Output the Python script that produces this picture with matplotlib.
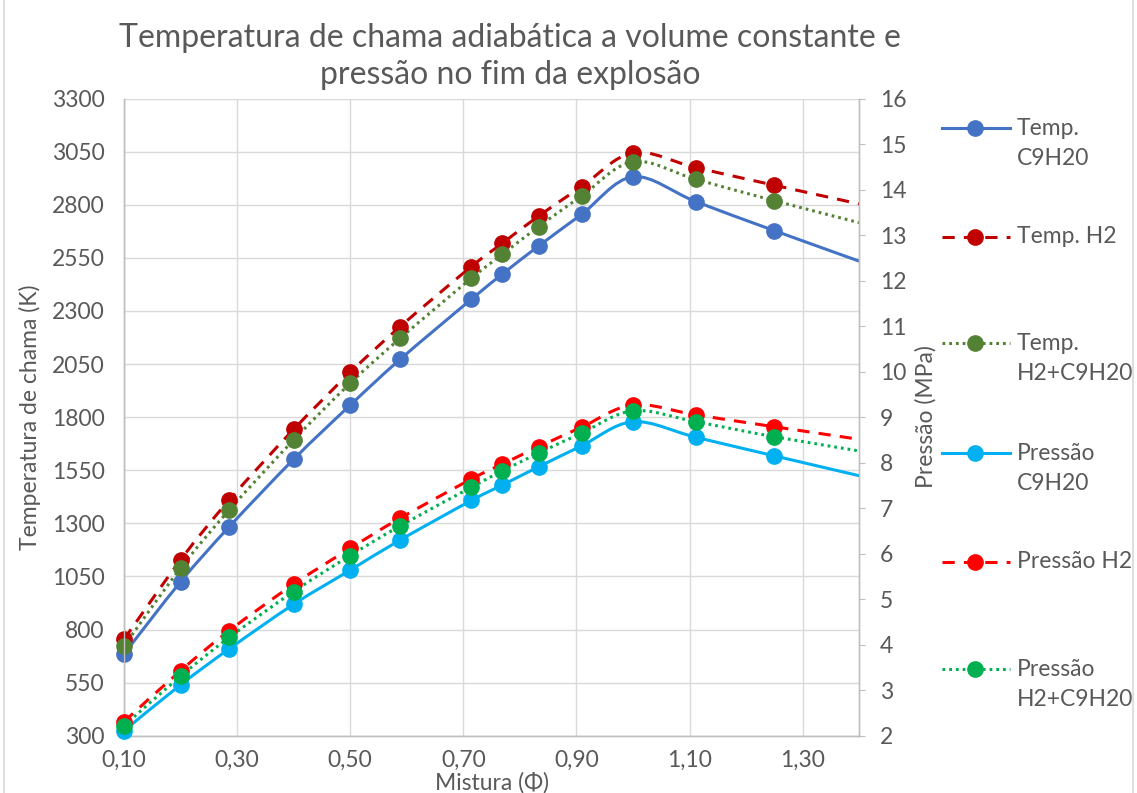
import numpy as np
import matplotlib
matplotlib.use("Agg")
import matplotlib.pyplot as plt
from matplotlib.path import Path
from matplotlib.patches import PathPatch
from matplotlib.lines import Line2D
from matplotlib.ticker import FuncFormatter, FixedLocator

plt.rcParams['font.family'] = ['Lato', 'DejaVu Sans']

# ---- data ----
phi = [0.10, 0.20, 0.286, 0.40, 0.50, 0.588, 0.714, 0.769, 0.833, 0.909, 1.00, 1.111, 1.25, 1.429]
temp_c9h20 = [685, 1025, 1284, 1602, 1857, 2072, 2355, 2474, 2606, 2755, 2932, 2815, 2678, 2507]
temp_h2 = [754, 1128, 1410, 1743, 2011, 2226, 2509, 2619, 2747, 2885, 3045, 2975, 2892, 2787]
temp_mix = [723, 1089, 1363, 1693, 1960, 2171, 2454, 2567, 2697, 2841, 3003, 2920, 2819, 2696]
pres_c9h20 = [2.11, 3.12, 3.91, 4.89, 5.64, 6.30, 7.17, 7.51, 7.91, 8.37, 8.90, 8.56, 8.15, 7.63]
pres_h2 = [2.31, 3.43, 4.31, 5.33, 6.12, 6.78, 7.64, 7.97, 8.35, 8.78, 9.27, 9.05, 8.79, 8.46]
pres_mix = [2.22, 3.31, 4.16, 5.17, 5.96, 6.61, 7.46, 7.82, 8.21, 8.65, 9.14, 8.90, 8.57, 8.20]

x_ticks = [0.10, 0.30, 0.50, 0.70, 0.90, 1.10, 1.30]
yl_ticks = [300, 550, 800, 1050, 1300, 1550, 1800, 2050, 2300, 2550, 2800, 3050, 3300]
yr_ticks = list(range(2, 17))

labels = ["Temp.\nC9H20", "Temp. H2", "Temp.\nH2+C9H20",
          "Pressão\nC9H20", "Pressão H2", "Pressão\nH2+C9H20"]
colors = ["#4472C4", "#C00000", "#548235", "#00B0F0", "#FF0000", "#00B050"]
DASH = (0, (4, 3))
DOT = (0, (0.9, 1.3))
styles = ["-", DASH, DOT, "-", DASH, DOT]

title = "Temperatura de chama adiabática a volume constante e\npressão no fim da explosão"
xlabel = "Mistura (Φ)"
ylabel_left = "Temperatura de chama (K)"
ylabel_right = "Pressão (MPa)"

W, H = 1137, 793
fig = plt.figure(figsize=(W / 100, H / 100), dpi=100)
L, R, T, B = 124, 859.3, 98.6, 735.8
ax = fig.add_axes([L / W, 1 - B / H, (R - L) / W, (B - T) / H])
ax2 = ax.twinx()

TXT = "#595959"
GRID = "#D9D9D9"
SP = "#BFBFBF"
FS = 16.5


def fx(px):
    return px / W


def fy(py):
    return 1 - py / H


def smooth_path(x, y):
    pts = np.column_stack([x, y]).astype(float)
    n = len(pts)
    verts = [pts[0]]
    codes = [Path.MOVETO]
    for i in range(n - 1):
        p0 = pts[i - 1] if i > 0 else pts[i]
        p1 = pts[i]
        p2 = pts[i + 1]
        p3 = pts[i + 2] if i + 2 < n else pts[i + 1]
        c1 = p1 + (p2 - p0) / 6.0
        c2 = p2 - (p3 - p1) / 6.0
        verts += [c1, c2, p2]
        codes += [Path.CURVE4] * 3
    return Path(verts, codes)


xarr = np.array(phi)
vis = xarr <= 1.4
series = [(ax, temp_c9h20), (ax, temp_h2), (ax, temp_mix),
          (ax2, pres_c9h20), (ax2, pres_h2), (ax2, pres_mix)]
for (a, ys), c, ls in zip(series, colors, styles):
    patch = PathPatch(smooth_path(phi, ys), fill=False, edgecolor=c, lw=2.2,
                      linestyle=ls, capstyle='butt', zorder=2)
    a.add_patch(patch)
    a.plot(xarr[vis], np.array(ys)[vis], 'o', color=c, ms=11, ls='none',
           clip_on=False, zorder=3)

ax.set_xlim(0.1, 1.4)
ax.set_ylim(300, 3300)
ax2.set_ylim(2, 16)
ax.xaxis.set_major_locator(FixedLocator(x_ticks))
ax.yaxis.set_major_locator(FixedLocator(yl_ticks))
ax2.yaxis.set_major_locator(FixedLocator(yr_ticks))
ax.xaxis.set_major_formatter(FuncFormatter(lambda v, p: f"{v:.2f}".replace(".", ",")))

ax.grid(True, color=GRID, lw=1.0, zorder=0)
ax.set_axisbelow(True)
for a in (ax, ax2):
    a.spines['top'].set_visible(False)
    for s in ('left', 'bottom', 'right'):
        a.spines[s].set_color(SP)
        a.spines[s].set_linewidth(1.0)
ax.tick_params(axis='y', length=0, pad=14, labelsize=FS, labelcolor=TXT)
ax.tick_params(axis='x', length=0, pad=10, labelsize=FS, labelcolor=TXT)
ax2.tick_params(axis='y', length=4, color=SP, pad=11, labelsize=FS, labelcolor=TXT)

fig.text(fx(30), fy(417), ylabel_left, rotation=90, fontsize=FS, color=TXT,
         ha='center', va='center')
fig.text(fx(926), fy(417), ylabel_right, rotation=90, fontsize=FS, color=TXT,
         ha='center', va='center')
fig.text(fx((L + R) / 2), fy(783), xlabel, fontsize=FS, color=TXT,
         ha='center', va='center')
fig.text(fx(510), fy(38), title.split("\n")[0], fontsize=23, color=TXT,
         ha='center', va='center')
fig.text(fx(510), fy(75), title.split("\n")[1], fontsize=23, color=TXT,
         ha='center', va='center')

# legend (placed like the Excel legend)
leg_y = [128.3, 236.7, 343.3, 453.3, 561.7, 669.3]
for c, ls, lab, yy in zip(colors, styles, labels, leg_y):
    fig.add_artist(Line2D([fx(941.7), fx(1010)], [fy(yy), fy(yy)], color=c,
                          lw=2.2, ls=ls))
    fig.add_artist(Line2D([fx(975)], [fy(yy)], color=c, marker='o', ms=11,
                          ls='none'))
    for k, line in enumerate(lab.split("\n")):
        fig.text(fx(1017), fy(yy + 30 * k), line, fontsize=FS, color=TXT,
                 ha='left', va='center')

# light border lines
fig.add_artist(Line2D([fx(4), fx(4)], [0, 1], color=GRID, lw=1.2))
fig.add_artist(Line2D([fx(1133), fx(1133)], [0, 1], color=GRID, lw=1.2))

fig.savefig("out.png", dpi=100, facecolor="white")
